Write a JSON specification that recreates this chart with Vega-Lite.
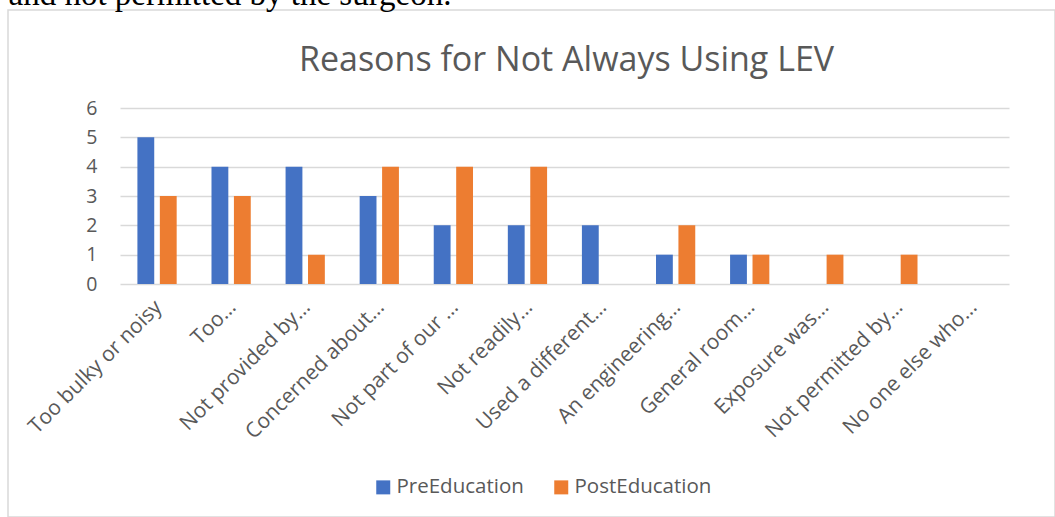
{
  "$schema": "https://vega.github.io/schema/vega-lite/v6.json",
  "width": 1047,
  "height": 507,
  "autosize": {"type": "none"},
  "padding": {"left": 8, "top": 10, "right": 0, "bottom": 0},
  "background": "white",
  "config": {
    "view": {"stroke": "#d9d9d9", "strokeWidth": 1.5},
    "font": "Open Sans"
  },
  "title": {
    "text": "Reasons for Not Always Using LEV",
    "font": "Open Sans",
    "fontSize": 34,
    "fontWeight": "normal",
    "color": "#595959",
    "anchor": "middle",
    "frame": "group",
    "dx": 35,
    "dy": 104
  },
  "data": {
    "values": [
      {"reason": "Too bulky or noisy", "group": "PreEducation", "count": 5},
      {"reason": "Too bulky or noisy", "group": "PostEducation", "count": 3},
      {"reason": "Too…", "group": "PreEducation", "count": 4},
      {"reason": "Too…", "group": "PostEducation", "count": 3},
      {"reason": "Not provided by…", "group": "PreEducation", "count": 4},
      {"reason": "Not provided by…", "group": "PostEducation", "count": 1},
      {"reason": "Concerned about…", "group": "PreEducation", "count": 3},
      {"reason": "Concerned about…", "group": "PostEducation", "count": 4},
      {"reason": "Not part of our …", "group": "PreEducation", "count": 2},
      {"reason": "Not part of our …", "group": "PostEducation", "count": 4},
      {"reason": "Not readily…", "group": "PreEducation", "count": 2},
      {"reason": "Not readily…", "group": "PostEducation", "count": 4},
      {"reason": "Used a different…", "group": "PreEducation", "count": 2},
      {"reason": "Used a different…", "group": "PostEducation", "count": 0},
      {"reason": "An engineering…", "group": "PreEducation", "count": 1},
      {"reason": "An engineering…", "group": "PostEducation", "count": 2},
      {"reason": "General room…", "group": "PreEducation", "count": 1},
      {"reason": "General room…", "group": "PostEducation", "count": 1},
      {"reason": "Exposure was…", "group": "PreEducation", "count": 0},
      {"reason": "Exposure was…", "group": "PostEducation", "count": 1},
      {"reason": "Not permitted by…", "group": "PreEducation", "count": 0},
      {"reason": "Not permitted by…", "group": "PostEducation", "count": 1},
      {"reason": "No one else who…", "group": "PreEducation", "count": 0},
      {"reason": "No one else who…", "group": "PostEducation", "count": 0}
    ]
  },
  "mark": {"type": "bar"},
  "encoding": {
    "x": {
      "field": "reason",
      "type": "nominal",
      "sort": null,
      "scale": {"range": [112, 1001], "paddingInner": 0.47, "paddingOuter": 0.235},
      "axis": {
        "title": null,
        "orient": "bottom",
        "offset": -231,
        "domain": false,
        "ticks": false,
        "tickSize": 0,
        "grid": false,
        "labelAngle": -45,
        "labelPadding": 10,
        "labelOffset": -6,
        "labelFont": "Open Sans",
        "labelFontSize": 21,
        "labelColor": "#595959",
        "labelLimit": 0
      }
    },
    "xOffset": {
      "field": "group",
      "type": "nominal",
      "scale": {"domain": ["PreEducation", "PostEducation"], "paddingInner": 0.25}
    },
    "y": {
      "field": "count",
      "type": "quantitative",
      "scale": {"domain": [0, 6], "range": [274, 98], "nice": false, "zero": true},
      "axis": {
        "title": "and not permitted by the surgeon.",
        "titleFont": "Liberation Serif",
        "titleFontSize": 33,
        "titleFontWeight": "normal",
        "titleColor": "black",
        "titleAngle": 0,
        "titleAlign": "left",
        "titleBaseline": "alphabetic",
        "titleX": -89,
        "titleY": -6,
        "values": [0, 1, 2, 3, 4, 5, 6],
        "offset": -89,
        "domain": false,
        "ticks": false,
        "tickSize": 0,
        "labelPadding": 0,
        "grid": true,
        "gridColor": "#d9d9d9",
        "gridWidth": 1.5,
        "labelFont": "Open Sans",
        "labelFontSize": 19.5,
        "labelColor": "#595959"
      }
    },
    "color": {
      "field": "group",
      "type": "nominal",
      "scale": {"domain": ["PreEducation", "PostEducation"], "range": ["#4472C4", "#ED7D31"]},
      "legend": {
        "title": null,
        "orient": "none",
        "legendX": 365,
        "legendY": 467,
        "direction": "horizontal",
        "symbolType": "square",
        "symbolSize": 196,
        "symbolStrokeWidth": 0,
        "labelFont": "Open Sans",
        "labelFontSize": 20.5,
        "labelColor": "#595959",
        "labelOffset": 3,
        "columnPadding": 27,
        "padding": 0
      }
    }
  }
}
